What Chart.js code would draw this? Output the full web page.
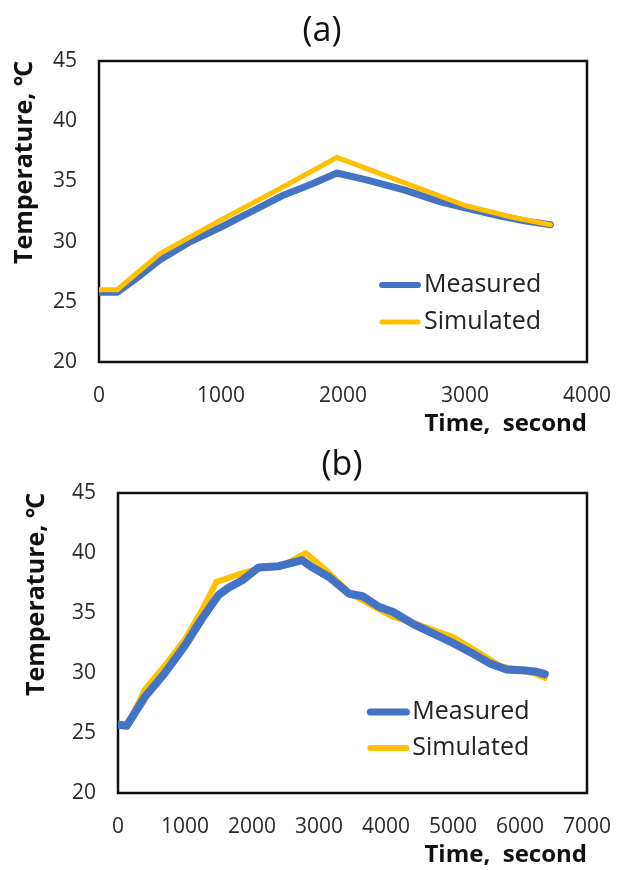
<!DOCTYPE html>
<html><head><meta charset="utf-8">
<script src="https://cdn.jsdelivr.net/npm/chart.js@4"></script>
<style>
html,body{margin:0;padding:0;background:#fff;}
#wrap{position:relative;width:632px;height:870px;overflow:hidden;background:#fff;}
.cv{position:absolute;left:0;}
.ttl{position:absolute;transform:translate(-50%,-50%);font-family:'Open Sans',sans-serif;font-size:34px;color:#111;white-space:nowrap;line-height:1;}
</style></head><body>
<div id="wrap">
<canvas id="ca" class="cv" width="632" height="440" style="top:0"></canvas>
<canvas id="cb" class="cv" width="632" height="430" style="top:440px"></canvas>
<div class="ttl" style="left:322px;top:28px">(a)</div>
<div class="ttl" style="left:342px;top:462px">(b)</div>
</div>
<script>
// ---- data ----
const seriesNames = ['Measured', 'Simulated'];
const yTicks = [20, 25, 30, 35, 40, 45];
const xTicksA = [0, 1000, 2000, 3000, 4000];
const xTicksB = [0, 1000, 2000, 3000, 4000, 5000, 6000, 7000];

const timeAMeasured = [0, 150, 300, 500, 750, 1000, 1250, 1500, 1750, 1950, 2200, 2500, 2800, 3000, 3300, 3500, 3700];
const tempAMeasured = [25.8, 25.8, 26.9, 28.5, 30.0, 31.2, 32.5, 33.8, 34.8, 35.7, 35.1, 34.3, 33.3, 32.8, 32.1, 31.7, 31.4];
const timeASimulated = [0, 150, 500, 1000, 1500, 1950, 2500, 3000, 3400, 3700];
const tempASimulated = [26.0, 26.0, 29.0, 31.8, 34.5, 37.0, 34.9, 33.0, 32.0, 31.4];

const timeBMeasured = [0, 130, 400, 700, 1000, 1250, 1500, 1650, 1850, 2100, 2400, 2750, 2900, 3150, 3450, 3650, 3900, 4100, 4400, 4700, 5000, 5300, 5550, 5800, 6100, 6250, 6370];
const tempBMeasured = [25.7, 25.6, 28.0, 30.0, 32.3, 34.5, 36.5, 37.1, 37.7, 38.8, 38.9, 39.4, 38.8, 38.0, 36.6, 36.4, 35.5, 35.1, 34.1, 33.3, 32.5, 31.6, 30.8, 30.3, 30.2, 30.1, 29.9];
const timeBSimulated = [0, 150, 400, 700, 1000, 1250, 1470, 1850, 2150, 2450, 2800, 3100, 3450, 3800, 4100, 4500, 5000, 5300, 5700, 6000, 6200, 6370];
const tempBSimulated = [25.7, 25.7, 28.6, 30.6, 32.8, 35.2, 37.6, 38.3, 38.8, 38.9, 40.0, 38.6, 36.7, 35.6, 34.7, 34.0, 33.0, 32.0, 30.6, 30.2, 30.0, 29.6];

// ---- helpers ----
const FONT = "'Open Sans', 'Noto Sans', 'Noto Sans CJK SC', sans-serif";
const BLUE = '#4472C4', GOLD = '#FFC000';
const pts = (xs, ys) => xs.map((x, i) => ({x: x, y: ys[i]}));

const boxPlugin = {
  id: 'plotBox',
  beforeDatasetsDraw(chart, args, o) {
    const {ctx, chartArea: a} = chart;
    ctx.save();
    ctx.strokeStyle = o.color; ctx.lineWidth = o.width;
    ctx.strokeRect(a.left, a.top, a.right - a.left, a.bottom - a.top);
    ctx.restore();
  }
};
const legendPlugin = {
  id: 'inLegend',
  afterDraw(chart, args, o) {
    const {ctx, chartArea: a} = chart;
    const w = a.right - a.left, h = a.bottom - a.top;
    const x0 = a.left + o.fx * w;
    o.rows.forEach((fy, i) => {
      const ds = chart.data.datasets[i];
      const y = a.top + fy * h;
      ctx.save();
      ctx.strokeStyle = ds.borderColor; ctx.lineWidth = o.lineWidths[i]; ctx.lineCap = 'round';
      ctx.beginPath(); ctx.moveTo(x0, y); ctx.lineTo(x0 + o.len, y); ctx.stroke();
      ctx.fillStyle = o.color; ctx.font = o.font; ctx.textBaseline = 'middle'; ctx.textAlign = 'left';
      ctx.fillText(ds.label, x0 + o.len + o.gap, y);
      ctx.restore();
    });
  }
};

function makeChart(id, cfg) {
  new Chart(document.getElementById(id), {
    type: 'line',
    data: {
      datasets: [
        {label: seriesNames[0], data: pts(cfg.mx, cfg.my), borderColor: BLUE, borderWidth: cfg.bw[0], order: cfg.order[0]},
        {label: seriesNames[1], data: pts(cfg.sx, cfg.sy), borderColor: GOLD, borderWidth: cfg.bw[1], order: cfg.order[1]}
      ]
    },
    options: {
      responsive: false, animation: false,
      elements: {point: {radius: 0, hoverRadius: 0}, line: {tension: 0, borderJoinStyle: 'round', borderCapStyle: 'round', fill: false}},
      layout: {padding: {top: cfg.padTop, right: cfg.padRight, left: 0, bottom: 0}},
      plugins: {
        legend: {display: false}, tooltip: {enabled: false}, title: {display: false},
        plotBox: {color: '#111', width: 2.5},
        inLegend: {fx: cfg.legFx, rows: cfg.legRows, len: 36, gap: 6, lineWidths: cfg.legLw, color: '#222', font: '25px ' + FONT}
      },
      scales: {
        x: {
          type: 'linear', min: cfg.xt[0], max: cfg.xt[cfg.xt.length - 1],
          grid: {display: false, drawTicks: false, tickLength: 0}, border: {display: false},
          ticks: {stepSize: cfg.xt[1] - cfg.xt[0], padding: 21, color: '#2a2a2a', font: {family: FONT, size: 21}, maxRotation: 0, autoSkip: false,
                  callback: v => String(v)},
          title: {display: true, text: 'Time,  second', align: 'end', color: '#111', font: {family: FONT, size: 24, weight: 'bold'}, padding: {top: 0, bottom: cfg.xTitlePad}},
          afterFit(s) { s.height = cfg.xH; }
        },
        y: {
          min: yTicks[0], max: yTicks[yTicks.length - 1],
          grid: {display: false, drawTicks: false, tickLength: 0}, border: {display: false},
          ticks: {stepSize: yTicks[1] - yTicks[0], padding: 22, color: '#2a2a2a', font: {family: FONT, size: 21}, callback: v => String(v)},
          title: {display: true, text: 'Temperature, ℃', align: 'end', color: '#111', font: {family: FONT, size: 25, weight: 'bold'}, padding: {top: cfg.yTitlePad, bottom: 0}},
          afterFit(s) { s.width = cfg.yW; }
        }
      }
    },
    plugins: [boxPlugin, legendPlugin]
  });
}

makeChart('ca', {
  mx: timeAMeasured, my: tempAMeasured, sx: timeASimulated, sy: tempASimulated,
  bw: [7, 5], order: [1, 0], xt: xTicksA,
  padTop: 61, padRight: 35, yW: 99, xH: 78, xTitlePad: 1, yTitlePad: 10,
  legFx: 0.58, legRows: [0.744, 0.867], legLw: [6, 5]
});
makeChart('cb', {
  mx: timeBMeasured, my: tempBMeasured, sx: timeBSimulated, sy: tempBSimulated,
  bw: [8, 6], order: [0, 1], xt: xTicksB,
  padTop: 53, padRight: 27, yW: 118, xH: 77, xTitlePad: 0, yTitlePad: 22,
  legFx: 0.538, legRows: [0.73, 0.85], legLw: [7, 6]
});
</script>
</body></html>
